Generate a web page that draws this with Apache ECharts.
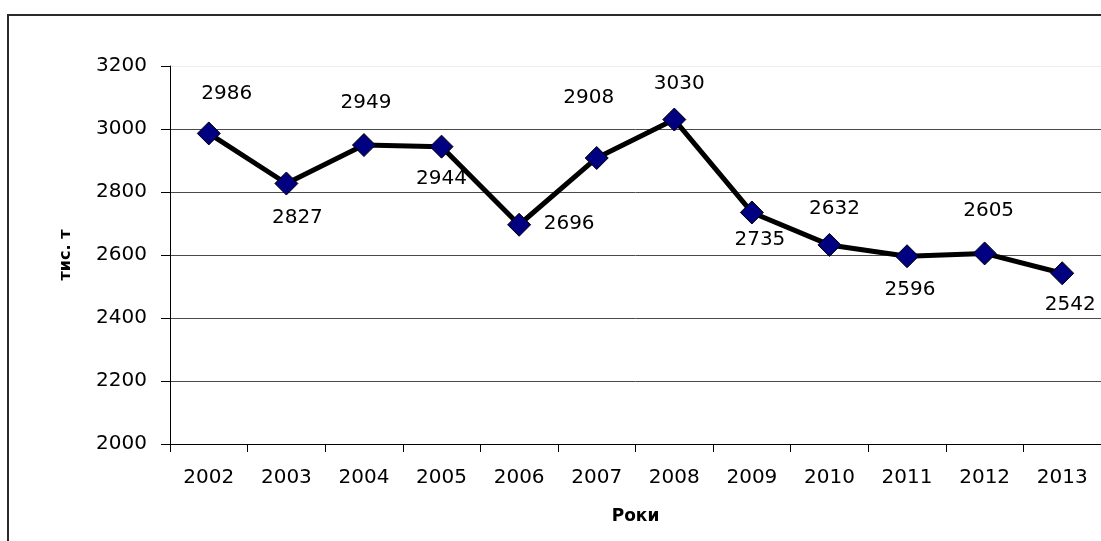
<!DOCTYPE html>
<html>
<head>
<meta charset="utf-8">
<script src="https://cdn.jsdelivr.net/npm/echarts@6/dist/echarts.min.js"></script>
<style>
  html, body { margin: 0; padding: 0; background: #fff; }
  #chart { width: 1101px; height: 541px; }
</style>
</head>
<body>
<div id="chart"></div>
<script>
// ---- data ----
const years = ['2002','2003','2004','2005','2006','2007','2008','2009','2010','2011','2012','2013'];
const values = [2986, 2827, 2949, 2944, 2696, 2908, 3030, 2735, 2632, 2596, 2605, 2542];
const yTicks = { min: 2000, max: 3200, step: 200 };
const yTitle = 'тис. т';
const xTitle = 'Роки';

// ---- label placement (style only) ----
const labelOffsets = [
  [18, -40], [11, 34], [2, -42], [0, 32], [50, -1], [-8, -60],
  [5, -36], [8, 27], [5, -36], [3, 34], [4, -43], [8, 32]
];

const FONT = 'DejaVu Sans';
const chart = echarts.init(document.getElementById('chart'), null, { renderer: 'canvas' });

const gridColors = [];
for (let v = yTicks.min; v <= yTicks.max; v += yTicks.step) {
  gridColors.push(v === yTicks.max ? '#ececec' : '#4a4a4a');
}

chart.setOption({
  backgroundColor: '#ffffff',
  animation: false,
  graphic: [{
    type: 'rect',
    shape: { x: 8, y: 15, width: 1200, height: 600 },
    style: { fill: 'none', stroke: '#2a2a2a', lineWidth: 2 },
    silent: true
  }],
  grid: { left: 170, top: 66, width: 935, height: 378, containLabel: false },
  xAxis: {
    type: 'category',
    data: years,
    boundaryGap: true,
    axisLine: { show: true, lineStyle: { color: '#000', width: 1 } },
    axisTick: { show: true, inside: false, length: 8, alignWithLabel: false, interval: 0, lineStyle: { color: '#000' } },
    axisLabel: { interval: 0, margin: 24, color: '#000', fontFamily: FONT, fontSize: 20 },
    splitLine: { show: false },
    name: xTitle,
    nameLocation: 'middle',
    nameGap: 64,
    nameTextStyle: { color: '#000', fontFamily: FONT, fontSize: 17, fontWeight: 'bold' }
  },
  yAxis: {
    type: 'value',
    min: yTicks.min,
    max: yTicks.max,
    interval: yTicks.step,
    axisLine: { show: true, lineStyle: { color: '#000', width: 1 } },
    axisTick: { show: true, inside: false, length: 9, lineStyle: { color: '#000' } },
    axisLabel: { margin: 23, color: '#000', fontFamily: FONT, fontSize: 20, formatter: (v) => String(v) },
    splitLine: { show: true, lineStyle: { color: gridColors, width: 1 } },
    name: yTitle,
    nameLocation: 'middle',
    nameGap: 96,
    nameRotate: 90,
    nameTextStyle: { color: '#000', fontFamily: FONT, fontSize: 16, fontWeight: 'bold' }
  },
  series: [{
    type: 'line',
    data: values.map((v, i) => ({
      value: v,
      label: { offset: labelOffsets[i] }
    })),
    symbol: 'diamond',
    symbolSize: 23,
    showAllSymbol: true,
    lineStyle: { color: '#000', width: 5 },
    itemStyle: { color: '#000080', borderColor: '#000', borderWidth: 1 },
    label: {
      show: true,
      position: 'inside',
      color: '#000',
      fontFamily: FONT,
      fontSize: 20
    },
    emphasis: { disabled: true },
    z: 3
  }]
});
</script>
</body>
</html>
